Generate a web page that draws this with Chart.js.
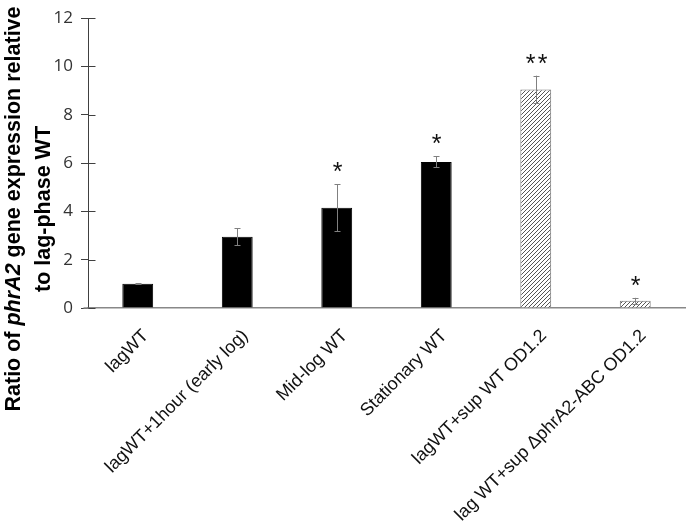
<!DOCTYPE html>
<html>
<head>
<meta charset="utf-8">
<script src="https://cdn.jsdelivr.net/npm/chart.js@4.4.1/dist/chart.umd.min.js"></script>
<style>
  html, body { margin: 0; padding: 0; background: #fff; }
  #wrap { width: 689px; height: 526px; position: relative; }
</style>
</head>
<body>
<div id="wrap"><canvas id="barChart"></canvas></div>
<script>
// datos
const categories = [
    "lagWT",
    "lagWT+1hour (early log)",
    "Mid-log WT",
    "Stationary WT",
    "lagWT+sup WT OD1.2",
    "lag WT+sup \u0394phrA2-ABC OD1.2",
];
const ratios = [1.0, 2.95, 4.15, 6.05, 9.05, 0.3];
const errors = [0.02, 0.35, 0.98, 0.23, 0.57, 0.12];
const stars = ["", "", "*", "*", "**", "*"];
const hatched = [false, false, false, false, true, true];
const yTicks = [0, 2, 4, 6, 8, 10, 12];

const FONT = "'Liberation Sans', Arial, sans-serif";

// patron rayado para las barras con sobrenadante
function makeHatch() {
    const c = document.createElement("canvas");
    c.width = 4;
    c.height = 4;
    const g = c.getContext("2d");
    g.fillStyle = "#fff";
    g.fillRect(0, 0, 4, 4);
    g.strokeStyle = "#555";
    g.lineWidth = 1;
    g.beginPath();
    g.moveTo(0, 4);
    g.lineTo(4, 0);
    g.moveTo(-1, 1);
    g.lineTo(1, -1);
    g.moveTo(3, 5);
    g.lineTo(5, 3);
    g.stroke();
    return g.createPattern(c, "repeat");
}

const ctx = document.getElementById("barChart").getContext("2d");
const hatch = makeHatch();

// barras de error, asteriscos y marcas interiores del eje y
const extras = {
    id: "extras",
    afterDatasetsDraw(chart) {
        const c = chart.ctx;
        const x = chart.scales.x;
        const y = chart.scales.y;
        c.save();
        c.strokeStyle = "#808080";
        c.lineWidth = 1;
        ratios.forEach((v, i) => {
            const px = Math.round(x.getPixelForValue(i)) + 0.5;
            const top = y.getPixelForValue(v + errors[i]);
            const bot = y.getPixelForValue(v - errors[i]);
            c.beginPath();
            c.moveTo(px, top);
            c.lineTo(px, bot);
            c.moveTo(px - 3, Math.round(top) + 0.5);
            c.lineTo(px + 3, Math.round(top) + 0.5);
            c.moveTo(px - 3, Math.round(bot) + 0.5);
            c.lineTo(px + 3, Math.round(bot) + 0.5);
            c.stroke();

            if (stars[i]) {
                c.fillStyle = "#111";
                c.font = "25px " + FONT;
                c.textAlign = "center";
                c.textBaseline = "alphabetic";
                const m = c.measureText("*");
                const mid = (m.actualBoundingBoxAscent - m.actualBoundingBoxDescent) / 2;
                const cy = top - 17 + mid;
                const n = stars[i].length;
                for (let k = 0; k < n; k++) {
                    const off = (k - (n - 1) / 2) * 12;
                    c.fillText("*", px + off, cy);
                }
            }
        });
        // marcas hacia adentro del eje y
        c.strokeStyle = "#404040";
        const ax = Math.round(chart.chartArea.left) + 0.5;
        yTicks.forEach((t) => {
            const py = Math.round(y.getPixelForValue(t)) + 0.5;
            c.beginPath();
            c.moveTo(ax, py);
            c.lineTo(ax + 7, py);
            c.stroke();
        });
        // la linea del eje x sobresale un poco a la izquierda
        c.strokeStyle = "#888";
        c.lineWidth = 1.5;
        c.beginPath();
        c.moveTo(ax - 5, chart.chartArea.bottom);
        c.lineTo(ax, chart.chartArea.bottom);
        c.stroke();
        c.restore();
    },
};

// etiquetas del eje x giradas 45 grados
const xLabels = {
    id: "xLabels",
    afterDraw(chart) {
        const c = chart.ctx;
        const x = chart.scales.x;
        const base = chart.chartArea.bottom + 25;
        c.save();
        c.fillStyle = "#111";
        c.font = "18px " + FONT;
        c.textAlign = "right";
        c.textBaseline = "middle";
        categories.forEach((lab, i) => {
            const px = x.getPixelForValue(i) + 8;
            c.save();
            c.translate(px, base);
            c.rotate(-Math.PI / 4);
            c.fillText(lab, 0, 0);
            c.restore();
        });
        c.restore();
    },
};

// titulo del eje y con phrA2 en cursiva
const yTitle = {
    id: "yTitle",
    afterDraw(chart) {
        const c = chart.ctx;
        const parts = [
            { t: "Ratio of ", f: "bold 21.5px " + FONT },
            { t: "phrA2", f: "italic bold 21.5px " + FONT },
            { t: " gene expression relative", f: "bold 21.5px " + FONT },
        ];
        const cy = 209;
        c.save();
        c.fillStyle = "#000";
        c.textBaseline = "middle";
        c.translate(14, cy);
        c.rotate(-Math.PI / 2);
        let total = 0;
        parts.forEach((p) => {
            c.font = p.f;
            total += c.measureText(p.t).width;
        });
        let xx = -total / 2;
        c.textAlign = "left";
        parts.forEach((p) => {
            c.font = p.f;
            c.fillText(p.t, xx, 0);
            xx += c.measureText(p.t).width;
        });
        c.restore();

        c.save();
        c.fillStyle = "#000";
        c.textBaseline = "middle";
        c.textAlign = "center";
        c.font = "bold 21.5px " + FONT;
        c.translate(44, cy);
        c.rotate(-Math.PI / 2);
        c.fillText("to lag-phase WT", 0, 0);
        c.restore();
    },
};

new Chart(ctx, {
    type: "bar",
    data: {
        labels: categories,
        datasets: [
            {
                label: "Ratio",
                data: ratios,
                backgroundColor: hatched.map((h) => (h ? hatch : "#000")),
                borderColor: hatched.map((h) => (h ? "#777" : "#000")),
                borderWidth: 1,
                barPercentage: 0.62,
                categoryPercentage: 0.5,
            },
        ],
    },
    options: {
        responsive: true,
        maintainAspectRatio: false,
        animation: false,
        layout: { padding: { top: 10, right: 4, left: 0, bottom: 0 } },
        plugins: {
            legend: { display: false },
            tooltip: { enabled: false },
        },
        scales: {
            x: {
                grid: { display: false, drawTicks: false },
                border: { display: true, color: "#888", width: 1.5 },
                ticks: { display: false },
                afterFit: (s) => {
                    s.height = 218;
                },
            },
            y: {
                min: 0,
                max: 12,
                afterBuildTicks: (s) => {
                    s.ticks = yTicks.map((v) => ({ value: v }));
                },
                grid: {
                    drawOnChartArea: false,
                    tickLength: 7,
                    color: "#404040",
                },
                border: { display: true, color: "#404040", width: 1 },
                ticks: {
                    color: "#333",
                    padding: 8,
                    font: { family: "'Open Sans', 'Liberation Sans', sans-serif", size: 17 },
                },
                afterFit: (s) => {
                    s.width = 88;
                },
            },
        },
    },
    plugins: [extras, xLabels, yTitle],
});
</script>
</body>
</html>
